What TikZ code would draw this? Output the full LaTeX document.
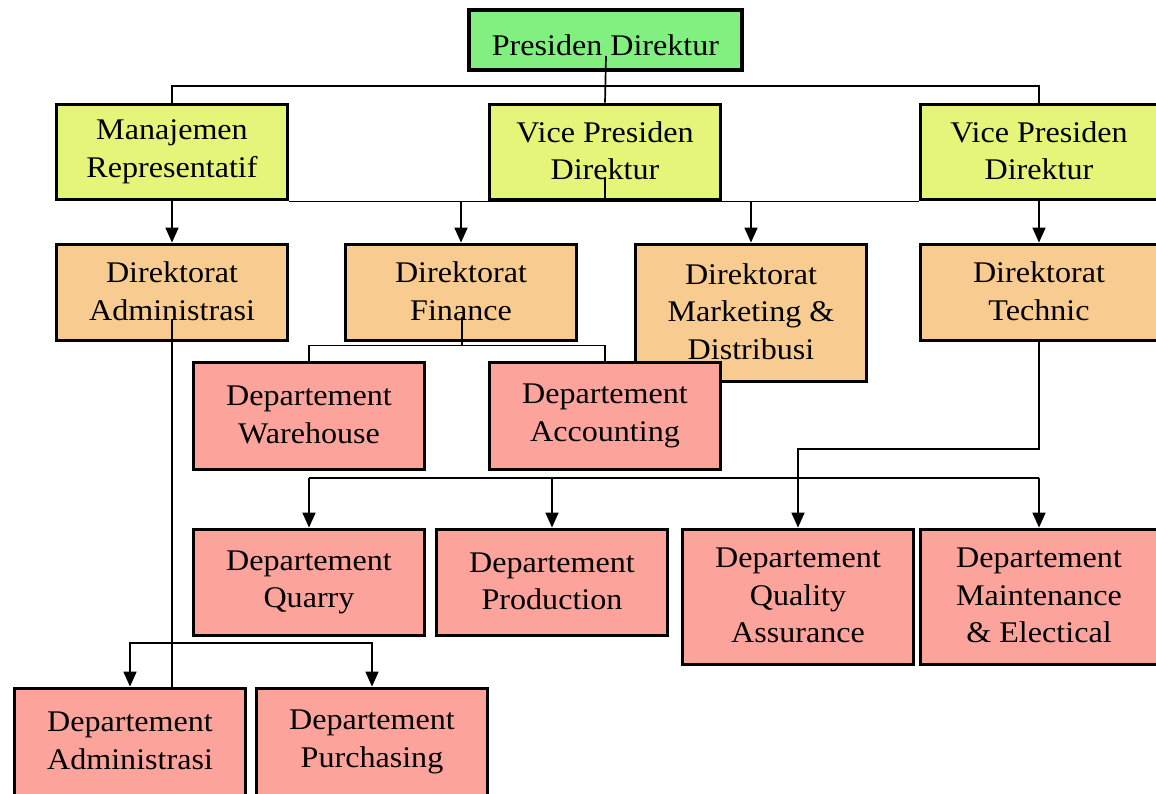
\documentclass[tikz,border=0pt]{standalone}
\usepackage{fontspec}
\setmainfont{Liberation Serif}[FakeStretch=1.07]
\usetikzlibrary{arrows.meta}
\definecolor{cPres}{RGB}{130,240,128}
\definecolor{cVice}{RGB}{228,245,122}
\definecolor{cDir}{RGB}{248,204,144}
\definecolor{cDept}{RGB}{252,164,156}
% line strut: full line height, placed a little low in the box
\newcommand{\linestrut}{\rule[-3pt]{0pt}{37.5pt}}
\begin{document}
\begin{tikzpicture}[x=1pt,y=-1pt,
  orgbox/.style={draw=black, line width=3.8pt, align=center, inner sep=0pt,
    font=\fontsize{30}{37.5}\selectfont, minimum width=231pt,
    execute at begin node=\linestrut, execute at end node=\linestrut},
  presbox/.style={orgbox, fill=cPres},
  vicebox/.style={orgbox, fill=cVice},
  dirbox/.style={orgbox, fill=cDir},
  deptbox/.style={orgbox, fill=cDept},
  link/.style={draw=black, line width=1.7pt},
  arr/.style={link, -{Triangle[length=15pt,width=13pt]}}]
\useasboundingbox (0,0) rectangle (1156,794);
\fill[white] (0,0) rectangle (1156,794);

% level 1
\node[presbox, minimum width=273pt, minimum height=60pt] (pres) at (605.5,40) {Presiden Direktur};
% level 2
\node[vicebox, minimum height=95pt] (mr)  at (172,152) {Manajemen\\Representatif};
\node[vicebox, minimum height=95pt] (vp1) at (605,152) {Vice Presiden\\Direktur};
\node[vicebox, minimum width=237pt, minimum height=95pt] (vp2) at (1039,152) {Vice Presiden\\Direktur};
% level 3
\node[dirbox, minimum height=96pt] (da) at (172,292.5) {Direktorat\\Administrasi};
\node[dirbox, minimum height=96pt] (df) at (461,292.5) {Direktorat\\Finance};
\node[dirbox, minimum height=137pt] (dm) at (751,313) {Direktorat\\Marketing \&\\Distribusi};
\node[dirbox, minimum width=237pt, minimum height=96pt] (dt) at (1039,292.5) {Direktorat\\Technic};
% level 4
\node[deptbox, minimum height=107pt] (wh) at (309,416) {Departement\\Warehouse};
\node[deptbox, minimum height=107pt] (ac) at (605,416) {Departement\\Accounting};
% level 5
\node[deptbox, minimum height=106pt] (qu) at (309,582.5) {Departement\\Quarry};
\node[deptbox, minimum height=106pt] (pr) at (552,582.5) {Departement\\Production};
\node[deptbox, minimum height=135pt] (qa) at (798,597) {Departement\\Quality\\Assurance};
\node[deptbox, minimum width=237pt, minimum height=135pt] (me) at (1039,597) {Departement\\Maintenance\\\& Electical};
% level 6
\node[deptbox, minimum height=107pt] (adm) at (130,742) {Departement\\Administrasi};
\node[deptbox, minimum height=107pt] (pu)  at (372,742) {Departement\\Purchasing};

% junction points of the connector lines
\coordinate (presin) at (606,56);
\coordinate (topbus) at (606,86);
\coordinate (vp1in) at (605,177);
\coordinate (dfin) at (462,317);
\coordinate (finbus) at (462,345.5);
\coordinate (dain) at (172,319);
\coordinate (admbus) at (172,643);
\coordinate (techbus) at (1039,449);
\coordinate (prodbus) at (552,478);

% president to the level below
\draw[link] (presin) -- (vp1.north);
\draw[link] (mr.north) |- (topbus) -| (vp2.north);
% level 2 to the directorates
\draw[link] (vp1in) -- (vp1.south);
\draw[link] (mr.south east) -- (vp2.south west);
\draw[arr] (mr.south) -- (da.north);
\draw[arr] (df.north |- mr.south) -- (df.north);
\draw[arr] (dm.north |- mr.south) -- (dm.north);
\draw[arr] (vp2.south) -- (dt.north);
% finance to its departments
\draw[link] (dfin) -- (finbus);
\draw[link] (wh.north) |- (finbus) -| (ac.north);
% administration to its departments
\draw[link] (dain) -- (dain |- adm.north);
\draw[arr] (admbus) -| (adm.north);
\draw[arr] (admbus) -| (pu.north);
% production line departments
\draw[link] (qu.north |- prodbus) -- (me.north |- prodbus);
\draw[arr] (qu.north |- prodbus) -- (qu.north);
\draw[arr] (prodbus) -- (pr.north);
\draw[arr] (me.north |- prodbus) -- (me.north);
% technic to quality assurance
\draw[arr] (dt.south) |- (techbus) -| (qa.north);
\end{tikzpicture}
\end{document}
